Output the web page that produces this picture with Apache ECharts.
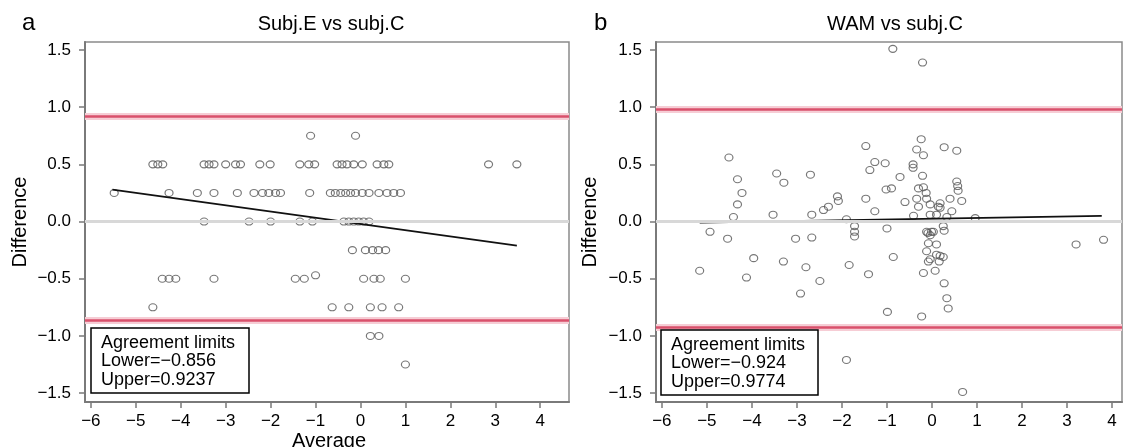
<!DOCTYPE html>
<html><head><meta charset="utf-8">
<script src="https://cdn.jsdelivr.net/npm/echarts@6/dist/echarts.min.js"></script>
<style>html,body{margin:0;padding:0;background:#fff}#c{width:1126px;height:447px}</style>
</head><body><div id="c"></div>
<script>
// ---- data ----
const xTicks = [-6, -5, -4, -3, -2, -1, 0, 1, 2, 3, 4];
const yTicks = [-1.5, -1, -0.5, 0, 0.5, 1, 1.5];
const panelTitles = ['Subj.E vs subj.C', 'WAM vs subj.C'];
const panelLetters = ['a', 'b'];
const xAxisName = 'Average';
const yAxisName = 'Difference';
const limitsA = [-0.856, 0.9237];
const limitsB = [-0.924, 0.9774];
const limitTextA = ['Agreement limits', 'Lower=\u22120.856', 'Upper=0.9237'];
const limitTextB = ['Agreement limits', 'Lower=\u22120.924', 'Upper=0.9774'];
const fitA = [[-5.52, 0.28], [3.48, -0.21]];
const fitB = [[-5.16, -0.01], [3.77, 0.05]];
const pointsA = [
  [-1.11, 0.75], [-0.11, 0.75],
  [-4.62, 0.5], [-4.51, 0.5], [-4.4, 0.5], [-3.48, 0.5], [-3.37, 0.5], [-3.26, 0.5], [-3.0, 0.5],
  [-2.78, 0.5], [-2.67, 0.5], [-2.24, 0.5], [-2.01, 0.5], [-1.35, 0.5], [-1.15, 0.5], [-1.02, 0.5],
  [-0.52, 0.5], [-0.41, 0.5], [-0.3, 0.5], [-0.15, 0.5], [0.04, 0.5], [0.37, 0.5], [0.52, 0.5],
  [0.63, 0.5], [2.85, 0.5], [3.48, 0.5],
  [-5.48, 0.25], [-4.26, 0.25], [-3.63, 0.25], [-3.26, 0.25], [-2.74, 0.25], [-2.37, 0.25],
  [-2.18, 0.25], [-2.04, 0.25], [-1.89, 0.25], [-1.78, 0.25], [-1.13, 0.25], [-0.67, 0.25],
  [-0.56, 0.25], [-0.44, 0.25], [-0.33, 0.25], [-0.22, 0.25], [-0.11, 0.25], [0.04, 0.25],
  [0.19, 0.25], [0.41, 0.25], [0.59, 0.25], [0.74, 0.25], [0.89, 0.25],
  [-3.48, 0], [-2.48, 0], [-2.0, 0], [-1.35, 0], [-1.07, 0], [-0.37, 0], [-0.26, 0], [-0.15, 0],
  [-0.04, 0], [0.07, 0], [0.19, 0],
  [-0.18, -0.25], [0.11, -0.25], [0.27, -0.25], [0.4, -0.25], [0.56, -0.25],
  [-4.41, -0.5], [-4.26, -0.5], [-4.11, -0.5], [-3.26, -0.5], [-1.45, -0.5], [-1.25, -0.5],
  [-1.0, -0.47], [0.07, -0.5], [0.3, -0.5], [0.44, -0.5], [1.0, -0.5],
  [-4.62, -0.75], [-0.63, -0.75], [-0.26, -0.75], [0.22, -0.75], [0.48, -0.75], [0.85, -0.75],
  [0.22, -1.0], [0.41, -1.0],
  [1.0, -1.25]
];
const pointsB = [
  [-5.16, -0.43], [-4.93, -0.09], [-4.54, -0.15], [-4.51, 0.56], [-4.32, 0.37], [-4.22, 0.25],
  [-4.32, 0.15], [-4.41, 0.04], [-4.12, -0.49], [-3.96, -0.32], [-3.53, 0.06], [-3.45, 0.42],
  [-3.29, 0.34], [-3.3, -0.35], [-3.03, -0.15], [-2.92, -0.63], [-2.8, -0.40], [-2.7, 0.41],
  [-2.67, 0.06], [-2.67, -0.14], [-2.49, -0.52], [-2.41, 0.10], [-2.3, 0.13], [-2.1, 0.22],
  [-2.08, 0.18], [-1.9, 0.02], [-1.9, -1.21], [-1.84, -0.38], [-1.72, -0.04], [-1.72, -0.09],
  [-1.72, -0.13], [-1.47, 0.66], [-1.47, 0.20], [-1.41, -0.46], [-1.38, 0.45], [-1.27, 0.52],
  [-1.27, 0.09], [-1.04, 0.51], [-1.02, 0.28], [-1.0, -0.06], [-0.99, -0.79], [-0.90, 0.29],
  [-0.87, 1.51], [-0.86, -0.31], [-0.71, 0.39], [-0.60, 0.17], [-0.42, 0.50], [-0.42, 0.47],
  [-0.41, 0.05], [-0.34, 0.63], [-0.34, 0.20], [-0.30, 0.29], [-0.30, 0.13], [-0.24, 0.72],
  [-0.23, -0.83], [-0.21, 1.39], [-0.21, 0.40], [-0.19, 0.58], [-0.19, 0.30], [-0.19, -0.45],
  [-0.13, 0.25], [-0.12, 0.20], [-0.12, -0.09], [-0.12, -0.26], [-0.09, -0.10], [-0.08, -0.19],
  [-0.08, -0.35], [-0.04, 0.15], [-0.04, 0.06], [-0.04, -0.12], [-0.04, -0.33], [-0.01, -0.09],
  [0.03, -0.09], [0.07, -0.43], [0.10, 0.06], [0.10, -0.20], [0.10, -0.29], [0.14, 0.13],
  [0.16, -0.35], [0.18, 0.16], [0.18, 0.12], [0.18, -0.30], [0.25, -0.04], [0.25, -0.31],
  [0.27, 0.65], [0.27, -0.08], [0.27, -0.54], [0.33, 0.04], [0.33, -0.67], [0.36, -0.76],
  [0.40, 0.20], [0.44, 0.09], [0.55, 0.62], [0.55, 0.35], [0.57, 0.31], [0.58, 0.27],
  [0.66, 0.18], [0.68, -1.49], [0.96, 0.03], [3.2, -0.2], [3.81, -0.16]
];

// ---- chart ----
const FONT = '"Liberation Sans", Arial, Helvetica, sans-serif';
const minus = v => (v < 0 ? '\u2212' : '') + Math.abs(v);
const fmtY = v => (v < 0 ? '\u2212' : '') + Math.abs(v).toFixed(1);

function xAxis(idx, min, max) {
  return {
    type: 'value', gridIndex: idx, min: min, max: max,
    axisLine: {show: true, onZero: false, lineStyle: {color: '#7a7a7a', width: 2}},
    axisTick: {show: true, length: 6, customValues: xTicks, lineStyle: {color: '#7a7a7a', width: 1.5}},
    axisLabel: {customValues: xTicks, formatter: minus, color: '#000', fontSize: 17, fontFamily: FONT, margin: 11},
    splitLine: {show: false}
  };
}
function yAxis(idx) {
  return {
    type: 'value', gridIndex: idx, min: -1.578, max: 1.57,
    axisLine: {show: true, onZero: false, lineStyle: {color: '#7a7a7a', width: 2}},
    axisTick: {show: true, length: 6, customValues: yTicks, lineStyle: {color: '#7a7a7a', width: 1.5}},
    axisLabel: {customValues: yTicks, formatter: fmtY, color: '#000', fontSize: 17, fontFamily: FONT, margin: 14},
    splitLine: {show: false}
  };
}
function refLines(lim) {
  const red = {color: '#d9506b', width: 2.5, type: 'solid'};
  const halo = {color: '#f6cdd5', width: 7, type: 'solid'};
  return {
    silent: true, symbol: ['none', 'none'], label: {show: false}, animation: false,
    data: [
      {yAxis: 0, lineStyle: {color: '#d8d8d8', width: 3, type: 'solid'}},
      {yAxis: lim[1], lineStyle: halo}, {yAxis: lim[1], lineStyle: red},
      {yAxis: lim[0], lineStyle: halo}, {yAxis: lim[0], lineStyle: red}
    ]
  };
}
const pointStyle = {color: 'rgba(255,255,255,0)', borderColor: '#555', borderWidth: 1.1};
function txt(x, y, text, size, align, rot) {
  return {type: 'text', x: x, y: y, rotation: rot || 0, z: 100,
    style: {text: text, fill: '#000', font: size + 'px ' + FONT, textAlign: align || 'left', textVerticalAlign: 'middle'}};
}
function legendBox(x, y, w, h, lines) {
  const els = [{type: 'rect', shape: {x: x, y: y, width: w, height: h}, z: 90,
    style: {fill: '#fff', stroke: '#000', lineWidth: 1.5}}];
  lines.forEach((l, i) => els.push(txt(x + 10, y + 15 + i * 18.5, l, 18, 'left')));
  return els;
}

const graphics = [
  txt(22, 23, panelLetters[0], 24, 'left'),
  txt(594, 23, panelLetters[1], 24, 'left'),
  txt(331, 24.5, panelTitles[0], 20, 'center'),
  txt(895, 24.5, panelTitles[1], 20, 'center'),
  txt(329, 441.5, xAxisName, 20, 'center'),
  txt(20, 222, yAxisName, 20, 'center', Math.PI / 2),
  txt(590, 222, yAxisName, 20, 'center', Math.PI / 2)
].concat(legendBox(91, 328, 158, 65, limitTextA), legendBox(661, 330, 157, 65, limitTextB));

const option = {
  animation: false,
  backgroundColor: '#fff',
  grid: [
    {left: 85, top: 42, width: 484, height: 360, show: true, borderColor: '#8a8a8a', borderWidth: 1.5},
    {left: 656, top: 42, width: 466, height: 360, show: true, borderColor: '#8a8a8a', borderWidth: 1.5}
  ],
  xAxis: [xAxis(0, -6.13, 4.64), xAxis(1, -6.13, 4.22)],
  yAxis: [yAxis(0), yAxis(1)],
  graphic: graphics,
  series: [
    {type: 'line', xAxisIndex: 0, yAxisIndex: 0, data: [], z: 1, markLine: refLines(limitsA)},
    {type: 'scatter', xAxisIndex: 0, yAxisIndex: 0, data: pointsA, symbol: 'circle', symbolSize: [8, 7], itemStyle: pointStyle, z: 3},
    {type: 'line', xAxisIndex: 0, yAxisIndex: 0, data: fitA, symbol: 'none', lineStyle: {color: '#111', width: 1.8}, z: 4},
    {type: 'line', xAxisIndex: 1, yAxisIndex: 1, data: [], z: 1, markLine: refLines(limitsB)},
    {type: 'scatter', xAxisIndex: 1, yAxisIndex: 1, data: pointsB, symbol: 'circle', symbolSize: [8, 7], itemStyle: pointStyle, z: 3},
    {type: 'line', xAxisIndex: 1, yAxisIndex: 1, data: fitB, symbol: 'none', lineStyle: {color: '#111', width: 1.8}, z: 4}
  ]
};
echarts.init(document.getElementById('c'), null, {renderer: 'canvas'}).setOption(option);
</script>
</body></html>
